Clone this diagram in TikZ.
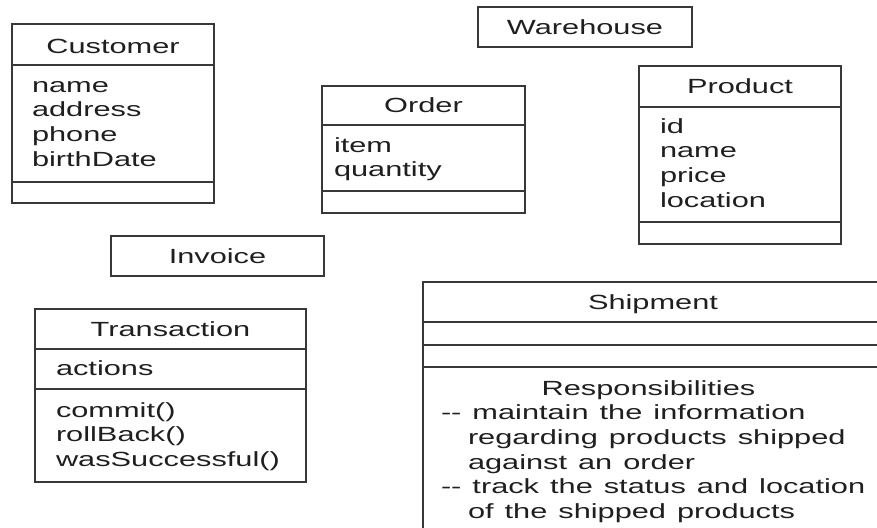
\documentclass[tikz,border=0pt]{standalone}
\usepackage{fontspec}
\setmainfont{Liberation Sans}[FakeStretch=1.5]
\newcommand\umlfont{\fontsize{20.5}{24.7}\selectfont\spaceskip=11pt plus 0pt minus 0pt }
\begin{document}
\begin{tikzpicture}[x=1pt,y=-1pt,
  ink/.style={draw=black!78,line width=1.6pt},
  classbox/.style={ink,rectangle,inner sep=0pt,outer sep=0pt,anchor=north west},
  txt/.style={inner sep=0pt,outer sep=0pt,text=black!88,font=\umlfont},
  title/.style={txt,anchor=base},
  attr/.style={txt,anchor=base west}]
\useasboundingbox (0,0) rectangle (877,527);
\clip (0,0) rectangle (877,527);

% ---- Customer ----
\node[classbox,minimum width=202,minimum height=179] (cust) at (12,24) {};
\draw[ink] (cust.west |- 0,65) -- (cust.east |- 0,65);
\draw[ink] (cust.west |- 0,182) -- (cust.east |- 0,182);
\node[title] (cust-t) at (113,54) {Customer};
\foreach \t [count=\i from 0] in {name,address,phone,birthDate}
  \node[attr] (cust-a\i) at (32,{92+24.7*\i}) {\t};

% ---- Order ----
\node[classbox,minimum width=203,minimum height=127] (ord) at (322,86) {};
\draw[ink] (ord.west |- 0,125) -- (ord.east |- 0,125);
\draw[ink] (ord.west |- 0,191) -- (ord.east |- 0,191);
\node[title] (ord-t) at (423.5,112.8) {Order};
\foreach \t [count=\i from 0] in {item,quantity}
  \node[attr] (ord-a\i) at (334,{152+24.7*\i}) {\t};

% ---- Warehouse ----
\node[classbox,minimum width=214,minimum height=40] (wh) at (478,7) {};
\node[title] (wh-t) at (585,34.3) {Warehouse};

% ---- Product ----
\node[classbox,minimum width=202,minimum height=178] (prod) at (639,66) {};
\draw[ink] (prod.west |- 0,107) -- (prod.east |- 0,107);
\draw[ink] (prod.west |- 0,222) -- (prod.east |- 0,222);
\node[title] (prod-t) at (740,93.8) {Product};
\foreach \t [count=\i from 0] in {id,name,price,location}
  \node[attr] (prod-a\i) at (660,{133+24.7*\i}) {\t};

% ---- Invoice ----
\node[classbox,minimum width=213,minimum height=40] (inv) at (111,236) {};
\node[title] (inv-t) at (217.5,263.3) {Invoice};

% ---- Transaction ----
\node[classbox,minimum width=271,minimum height=173] (trans) at (35,309) {};
\draw[ink] (trans.west |- 0,349) -- (trans.east |- 0,349);
\draw[ink] (trans.west |- 0,389) -- (trans.east |- 0,389);
\node[title] (trans-t) at (170.5,336.3) {Transaction};
\node[attr] (trans-a0) at (56,375) {actions};
\foreach \t [count=\i from 0] in {commit(),rollBack(),wasSuccessful()}
  \node[attr] (trans-m\i) at (56,{417+24.7*\i}) {\t};

% ---- Shipment (runs past the right and bottom edges) ----
\node[classbox,minimum width=460,minimum height=270] (ship) at (423,282) {};
\draw[ink] (ship.west |- 0,322) -- (ship.east |- 0,322);
\draw[ink] (ship.west |- 0,345) -- (ship.east |- 0,345);
\draw[ink] (ship.west |- 0,367) -- (ship.east |- 0,367);
\node[title] (ship-t) at (653,309.3) {Shipment};
\node[title] (ship-r0) at (648.5,395) {Responsibilities};
\node[attr] (ship-r1) at (441,419.7) {-{}- maintain the information};
\node[attr] (ship-r2) at (468,444.4) {regarding products shipped};
\node[attr] (ship-r3) at (468,469.1) {against an order};
\node[attr] (ship-r4) at (441,493.8) {-{}- track the status and location};
\node[attr] (ship-r5) at (468,518.5) {of the shipped products};
\end{tikzpicture}
\end{document}
